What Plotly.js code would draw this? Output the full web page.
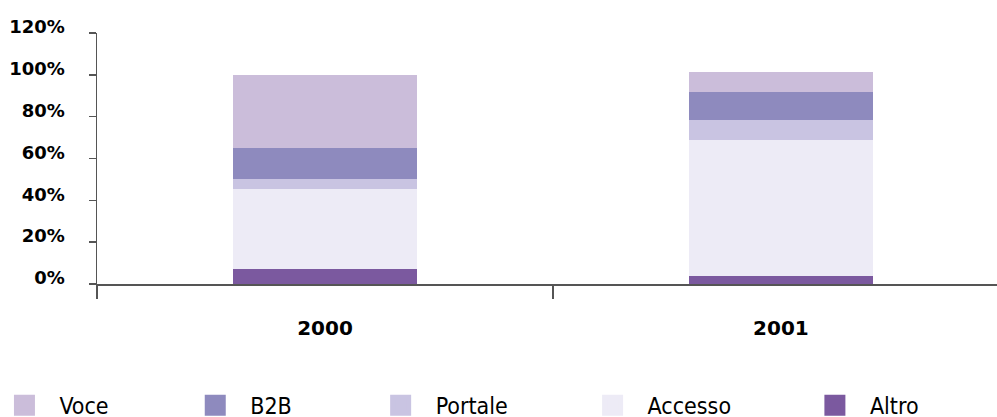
<!DOCTYPE html>
<html><head><meta charset="utf-8">
<script src="https://cdn.plot.ly/plotly-3.0.1.min.js"></script>
<style>html,body{margin:0;padding:0;overflow:hidden;background:#fff}</style>
</head><body>
<div id="chart" style="width:997px;height:417px"></div>
<script>
// Data (percent of total)
const years = ['2000', '2001'];
const seriesNames = ['Altro', 'Accesso', 'Portale', 'B2B', 'Voce']; // bottom to top
const altro   = [7.4, 3.6];
const accesso = [38.2, 65.3];
const portale = [4.7, 9.6];
const b2b     = [14.8, 13.3];
const voce    = [35.0, 9.6];
const yTickVals = [0, 20, 40, 60, 80, 100, 120];
const yTickText = ['0%', '20%', '40%', '60%', '80%', '100%', '120%'];

const values = {Altro: altro, Accesso: accesso, Portale: portale, B2B: b2b, Voce: voce};
const colors = {Voce: '#cbbdda', B2B: '#8e8abe', Portale: '#c9c4e2', Accesso: '#edebf6', Altro: '#7b599f'};
const legendOf = {Voce: 'legend', B2B: 'legend2', Portale: 'legend3', Accesso: 'legend4', Altro: 'legend5'};
const legendX = {Voce: -0.1195, B2B: 0.0925, Portale: 0.2985, Accesso: 0.534, Altro: 0.781};

const traces = [];
seriesNames.forEach(name => {
  traces.push({
    type: 'bar', name: name, x: years, y: values[name],
    marker: {color: colors[name]}, showlegend: false, hoverinfo: 'none'
  });
});
seriesNames.forEach(name => {
  traces.push({
    type: 'scatter', mode: 'markers', name: name, x: [null], y: [null],
    marker: {symbol: 'square', size: 16, color: colors[name], line: {width: 5, color: colors[name]}},
    legend: legendOf[name], hoverinfo: 'none'
  });
});

const legendFont = {family: 'Liberation Sans Narrow, DejaVu Sans Condensed, sans-serif', size: 23, color: '#000'};
const layout = {
  width: 997, height: 417,
  margin: {l: 97, r: 0, t: 33, b: 132.5, autoexpand: false},
  paper_bgcolor: '#fff', plot_bgcolor: '#fff',
  barmode: 'stack', bargap: 0.596,
  xaxis: {
    type: 'category', range: [-0.5, 1.474], fixedrange: true,
    showline: true, linecolor: '#555', linewidth: 1.5,
    ticks: 'outside', tickson: 'boundaries', ticklen: 13, tickcolor: '#555', tickwidth: 1.5,
    showgrid: false, zeroline: false,
    tickfont: {family: 'DejaVu Sans', size: 20, color: '#000', weight: 'bold'},
    ticklabelstandoff: 25
  },
  yaxis: {
    range: [0, 120], fixedrange: true,
    tickvals: yTickVals, ticktext: yTickText,
    showline: true, linecolor: '#555', linewidth: 1.5,
    ticks: 'outside', ticklen: 7, tickcolor: '#555', tickwidth: 1.5,
    showgrid: false, zeroline: false,
    tickfont: {family: 'DejaVu Sans', size: 18, color: '#000', weight: 'bold'},
    ticklabelstandoff: 20, ticklabelshift: -6
  },
  showlegend: true
};
Object.keys(legendOf).forEach(name => {
  layout[legendOf[name]] = {
    x: legendX[name], xanchor: 'left', y: -0.483, yanchor: 'middle',
    orientation: 'h', bgcolor: 'rgba(0,0,0,0)', font: legendFont, itemwidth: 60
  };
});

Plotly.newPlot('chart', traces, layout, {displayModeBar: false, staticPlot: true});
</script>
</body></html>
